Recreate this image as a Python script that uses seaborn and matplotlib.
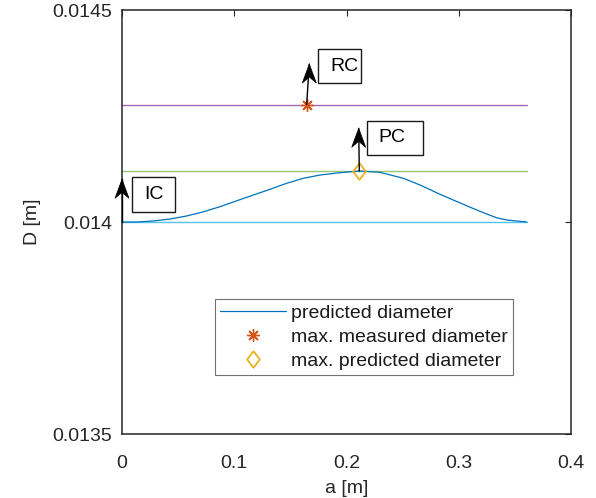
import matplotlib
matplotlib.use("Agg")
import matplotlib.pyplot as plt
import matplotlib.transforms as mtrans
import seaborn as sns
import pandas as pd
from matplotlib.lines import Line2D
from matplotlib.patches import Rectangle, Polygon

# ---------------- data ----------------
a_pred = [0.0, 0.0131, 0.0279, 0.0428, 0.0576, 0.0724, 0.0873, 0.1022, 0.1170,
          0.1318, 0.1467, 0.1615, 0.1764, 0.1942, 0.2114, 0.2298, 0.2506, 0.2655,
          0.2803, 0.2951, 0.3100, 0.3249, 0.3338, 0.3427, 0.3605]
D_pred = [0.0140000, 0.0140000, 0.0140024, 0.0140070, 0.0140142, 0.0140240,
          0.0140361, 0.0140500, 0.0140637, 0.0140770, 0.0140913, 0.0141030,
          0.0141108, 0.0141163, 0.0141203, 0.0141172, 0.0141031, 0.0140873,
          0.0140690, 0.0140519, 0.0140350, 0.0140189, 0.0140100, 0.0140047,
          0.0140000]

a_range = [0.0, 0.3605]
D_initial = 0.0140000          # IC level
D_max_measured = 0.014277      # RC level
D_max_predicted = 0.0141203    # PC level
a_max_measured = 0.1645
a_max_predicted = 0.2114

xticks = [0.0, 0.1, 0.2, 0.3, 0.4]
xtick_labels = ["0", "0.1", "0.2", "0.3", "0.4"]
yticks = [0.0135, 0.0140, 0.0145]
ytick_labels = ["0.0135", "0.014", "0.0145"]

legend_labels = ["predicted diameter", "max. measured diameter", "max. predicted diameter"]

# annotations: label, arrow tail, arrow tip, box (x0, x1, y0, y1), text x
annotations = [
    ("IC", (0.0, D_initial), (0.0, 0.0141007), (0.00918, 0.04722, 0.0140243, 0.0141054), 0.0196),
    ("RC", (a_max_measured, D_max_measured), (0.16686, 0.0143726), (0.17434, 0.21292, 0.0143271, 0.0144073), 0.1853),
    ("PC", (a_max_predicted, D_max_predicted), (0.21087, 0.0142210), (0.21800, 0.26779, 0.0141580, 0.0142389), 0.22833),
]

c_pred = "#0072BD"
c_star = "#D95319"
c_diam = "#EDB120"
c_purple = "#A468B4"
c_green = "#9CC46E"
c_cyan = "#56C4F0"

# ---------------- style ----------------
sns.set_style("white")
plt.rcParams["font.family"] = ["Liberation Sans", "DejaVu Sans"]
plt.rcParams["font.size"] = 14

fig = plt.figure(figsize=(5.96, 4.98), dpi=100)
ax = fig.add_axes([122 / 596, 1 - 434 / 498, 449 / 596, 424 / 498])

df_pred = pd.DataFrame({"a": a_pred, "D": D_pred})
sns.lineplot(data=df_pred, x="a", y="D", ax=ax, color=c_pred, lw=0.9,
             sort=False, estimator=None, zorder=3)

for lvl, col in [(D_max_measured, c_purple), (D_max_predicted, c_green), (D_initial, c_cyan)]:
    sns.lineplot(x=a_range, y=[lvl, lvl], ax=ax, color=col, lw=1.0,
                 estimator=None, zorder=2)

ax.plot([a_max_measured], [D_max_measured], linestyle="none", marker=(8, 2, 0),
        markersize=9, markeredgewidth=1.0, color=c_star, zorder=4)
diamond = [(0, 1), (0.76, 0), (0, -1), (-0.76, 0), (0, 1)]
ax.plot([a_max_predicted], [D_max_predicted], linestyle="none", marker=diamond,
        markersize=12, markeredgewidth=1.3, markerfacecolor="none",
        markeredgecolor=c_diam, zorder=4)

# arrow head shape (inches, relative to tip): concave "stealth" head
head = [(0, 0), (-0.07, -0.19), (0, -0.13), (0.07, -0.19)]
for label, tail, tip, box, tx in annotations:
    ax.plot([tail[0], tip[0]], [tail[1], tip[1]], color="k", lw=1.0,
            zorder=6, clip_on=False)
    tr = fig.dpi_scale_trans + mtrans.ScaledTranslation(tip[0], tip[1], ax.transData)
    ax.add_patch(Polygon(head, closed=True, transform=tr, facecolor="k",
                         edgecolor="k", lw=0.5, zorder=6, clip_on=False))
    x0, x1, y0, y1 = box
    ax.add_patch(Rectangle((x0, y0), x1 - x0, y1 - y0, facecolor="white",
                           edgecolor="0.1", lw=1.0, zorder=6, clip_on=False))
    ax.text(tx, (y0 + y1) / 2, label, ha="left", va="center", fontsize=14,
            color="k", zorder=7)

ax.set_xlim(0, 0.4)
ax.set_ylim(0.0135, 0.0145)
ax.set_xticks(xticks)
ax.set_xticklabels(xtick_labels)
ax.set_yticks(yticks)
ax.set_yticklabels(ytick_labels)
ax.tick_params(direction="in", top=True, right=True, length=4, width=0.8,
               colors="0.15", labelsize=14)
ax.tick_params(axis="x", pad=15)
ax.tick_params(axis="y", pad=7)
for s in ax.spines.values():
    s.set_visible(True)
    s.set_color("0.15")
    s.set_linewidth(1.1)

ax.set_xlabel("a [m]", fontsize=14, color="0.15", labelpad=6)
ax.set_ylabel("D [m]", fontsize=14, color="0.15", labelpad=8)

handles = [
    Line2D([], [], color=c_pred, lw=0.9),
    Line2D([], [], linestyle="none", marker=(8, 2, 0), markersize=9,
           markeredgewidth=1.0, color=c_star),
    Line2D([], [], linestyle="none", marker=diamond, markersize=12,
           markeredgewidth=1.3, markerfacecolor="none", markeredgecolor=c_diam),
]
leg = ax.legend(handles, legend_labels, loc="upper left",
                bbox_to_anchor=(0.207, 0.318), borderaxespad=0, fontsize=14,
                frameon=True, fancybox=False, handlelength=3.4,
                handletextpad=0.25, labelspacing=0.33, borderpad=0.25)
leg.get_frame().set_edgecolor("0.3")
leg.get_frame().set_linewidth(0.8)
for t in leg.get_texts():
    t.set_color("0.1")

fig.savefig("out.png", dpi=100)
